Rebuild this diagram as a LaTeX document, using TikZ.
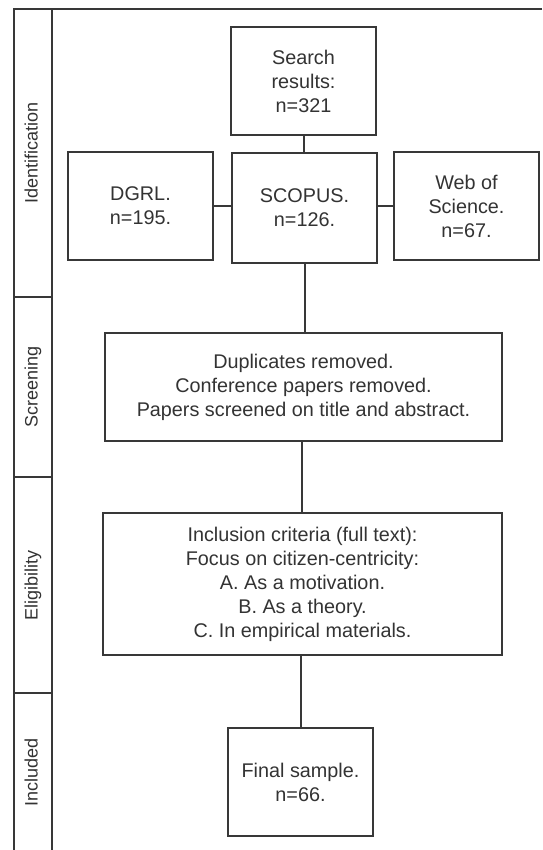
\documentclass[tikz,border=0pt]{standalone}
\usepackage{fontspec}
\setmainfont{Liberation Sans}
\begin{document}
\begin{tikzpicture}[x=1pt,y=-1pt,
  line/.style={draw=black!78,line width=2pt},
  box/.style={line,rectangle,inner sep=0pt,outer sep=0pt,align=center,
    text=black!80,font=\fontsize{19.8}{24}\selectfont},
  lanelabel/.style={rotate=90,anchor=base,inner sep=0pt,text=black!80,
    font=\fontsize{18}{21.6}\selectfont}]
\useasboundingbox (0,0) rectangle (542,850);
\fill[white] (0,0) rectangle (542,850);
% lanes
\coordinate (tl) at (14,9);
\coordinate (tr) at (542,9);
\coordinate (bl) at (14,850);
\coordinate (bm) at (52,850);
\coordinate (tm) at (52,9);
\draw[line] (tr) -- (tl) -- (bl);
\draw[line] (tm) -- (bm);
\coordinate (d1l) at (14,297); \coordinate (d1r) at (52,297);
\coordinate (d2l) at (14,477); \coordinate (d2r) at (52,477);
\coordinate (d3l) at (14,693); \coordinate (d3r) at (52,693);
\draw[line] (d1l) -- (d1r);
\draw[line] (d2l) -- (d2r);
\draw[line] (d3l) -- (d3r);
\node[lanelabel] (lid) at (37.5,153) {Identification};
\node[lanelabel] (lsc) at (37.5,387) {Screening};
\node[lanelabel] (lel) at (37.5,585) {Eligibility};
\node[lanelabel] (lin) at (37.5,772) {Included};
% boxes
\node[box,minimum width=145pt,minimum height=108pt] (search) at (303.5,81) {Search\\results:\\n=321};
\node[box,minimum width=145pt,minimum height=108pt] (dgrl) at (140.5,206) {DGRL.\\n=195.};
\node[box,minimum width=145pt,minimum height=109pt] (scopus) at (304.5,208) {SCOPUS.\\n=126.};
\node[box,minimum width=145pt,minimum height=108pt] (wos) at (466.5,206) {Web of\\Science.\\n=67.};
\node[box,minimum width=397pt,minimum height=108pt] (scr) at (303.5,387) {Duplicates removed.\\Conference papers removed.\\Papers screened on title and abstract.};
\node[box,minimum width=399pt,minimum height=142pt] (elig) at (302.5,584) {Inclusion criteria (full text):\\Focus on citizen-centricity:\\A. As a motivation.\\B. As a theory.\\C. In empirical materials.};
\node[box,minimum width=145pt,minimum height=108pt] (fin) at (300.5,782) {Final sample.\\n=66.};
% connectors
\draw[line] (search.south) -- (search.south |- scopus.north);
\draw[line] (dgrl.east) -- (dgrl.east -| scopus.west);
\draw[line] (scopus.east |- wos.west) -- (wos.west);
\draw[line] (scopus.south) -- (scopus.south |- scr.north);
\draw[line] ([xshift=-2pt]scr.south) -- ([xshift=-2pt]scr.south |- elig.north);
\draw[line] (elig.south -| fin.north) -- (fin.north);
\end{tikzpicture}
\end{document}
